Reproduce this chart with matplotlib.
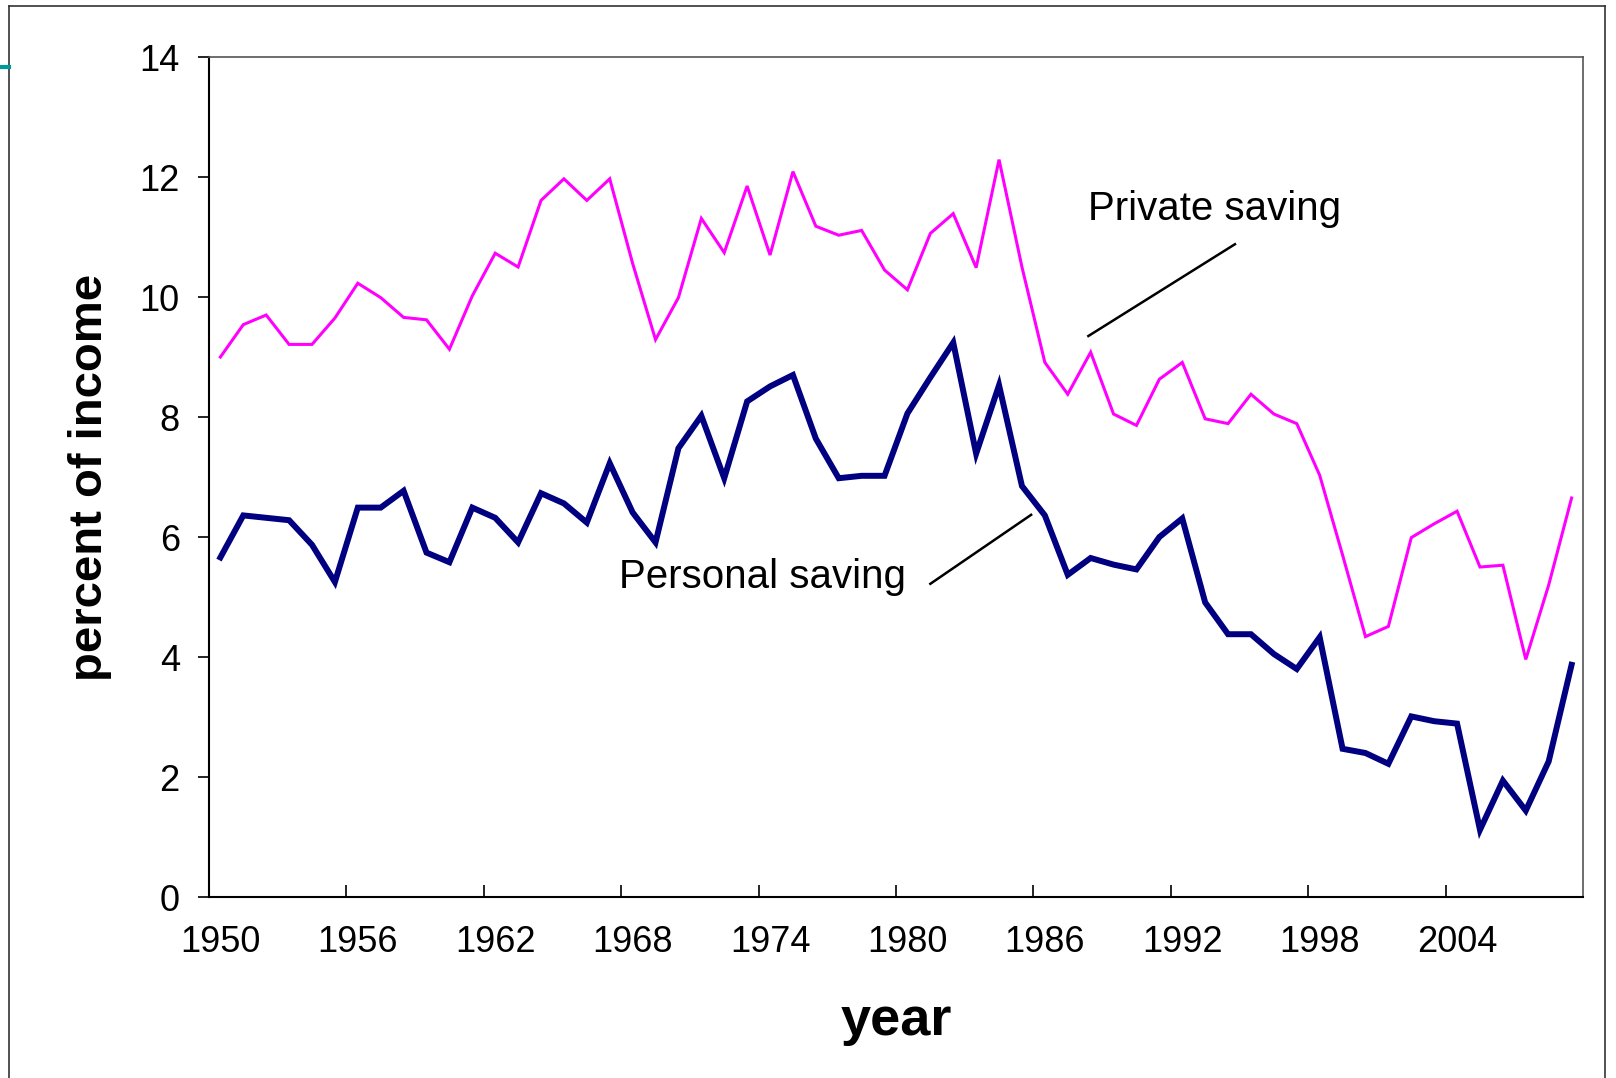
import matplotlib.pyplot as plt
from matplotlib.lines import Line2D

# saving rates, percent of income, 1950-2009
years = list(range(1950, 2010))
private_saving = [9.0, 9.54, 9.70, 9.21, 9.21, 9.65, 10.23, 9.99, 9.66, 9.62,
                  9.13, 10.02, 10.73, 10.50, 11.61, 11.97, 11.61, 11.97, 10.56, 9.29,
                  9.99, 11.31, 10.74, 11.85, 10.70, 12.09, 11.18, 11.03, 11.11, 10.45,
                  10.12, 11.06, 11.39, 10.49, 12.29, 10.50, 8.91, 8.38, 9.08, 8.05,
                  7.86, 8.63, 8.91, 7.97, 7.89, 8.38, 8.05, 7.89, 7.03, 5.70,
                  4.34, 4.51, 5.99, 6.22, 6.43, 5.50, 5.53, 3.96, 5.20, 6.65]
personal_saving = [5.66, 6.36, 6.32, 6.28, 5.87, 5.25, 6.49, 6.49, 6.77, 5.74,
                   5.58, 6.49, 6.32, 5.91, 6.73, 6.56, 6.24, 7.23, 6.41, 5.91,
                   7.48, 8.02, 6.98, 8.26, 8.51, 8.70, 7.64, 6.98, 7.02, 7.02,
                   8.06, 8.66, 9.24, 7.39, 8.53, 6.85, 6.36, 5.37, 5.65, 5.54,
                   5.46, 6.00, 6.31, 4.91, 4.38, 4.38, 4.05, 3.80, 4.33, 2.47,
                   2.40, 2.22, 3.01, 2.93, 2.89, 1.12, 1.94, 1.44, 2.26, 3.87]

plt.rcParams['font.family'] = ['Liberation Sans', 'DejaVu Sans']

fig = plt.figure(figsize=(16.16, 10.78), dpi=100)
ax = fig.add_axes([0.1293, 0.1679, 0.8503, 0.7792])

x = list(range(len(years)))
ax.plot(x, private_saving, color='#ff00ff', lw=2.2, solid_joinstyle='miter')
ax.plot(x, personal_saving, color='#000080', lw=4.3, solid_joinstyle='miter')

# category style x axis: tick marks between years, labels under every 6th year
ax.set_xlim(-0.5, len(years) - 0.5)
ax.set_xticks([i - 0.5 for i in range(0, len(years) - 1, 6)])
ax.set_xticklabels([])
ax.set_xticks(list(range(0, len(years) - 1, 6)), minor=True)
ax.set_xticklabels([str(years[i]) for i in range(0, len(years) - 1, 6)], minor=True)
ax.tick_params(axis='x', which='major', direction='in', length=9, width=1.2)
ax.tick_params(axis='x', which='minor', length=0, pad=20, labelsize=26)

ax.set_ylim(0, 14)
ax.set_yticks(range(0, 15, 2))
ax.tick_params(axis='y', direction='out', length=8, width=1.2, pad=13, labelsize=26)

for s in ['left', 'bottom']:
    ax.spines[s].set_color('black')
    ax.spines[s].set_linewidth(1.5)
for s in ['top', 'right']:
    ax.spines[s].set_color('#555555')
    ax.spines[s].set_linewidth(1.2)

ax.set_xlabel('year', fontsize=39, fontweight='bold', labelpad=26)
ax.set_ylabel('percent of income', fontsize=34, fontweight='bold', labelpad=20)

# labels with leader lines
ax.text(37.9, 11.47, 'Private saving', fontsize=29, ha='left', va='center')
ax.plot([37.9, 44.3], [9.35, 10.88], color='black', lw=1.8)
ax.text(17.4, 5.33, 'Personal saving', fontsize=29, ha='left', va='center')
ax.plot([31.0, 35.4], [5.22, 6.37], color='black', lw=1.8)

# slide frame
fig.add_artist(Line2D([0.0058, 0.0058], [0.0, 0.9947], color='#333333', lw=1.2))
fig.add_artist(Line2D([0.0058, 0.9932], [0.9947, 0.9947], color='#333333', lw=1.2))
fig.add_artist(Line2D([0.9932, 0.9932], [0.0, 0.9947], color='#333333', lw=1.2))
fig.add_artist(Line2D([0.0, 0.0058], [0.938, 0.938], color='#009999', lw=3))

fig.savefig('out.png', dpi=100)
